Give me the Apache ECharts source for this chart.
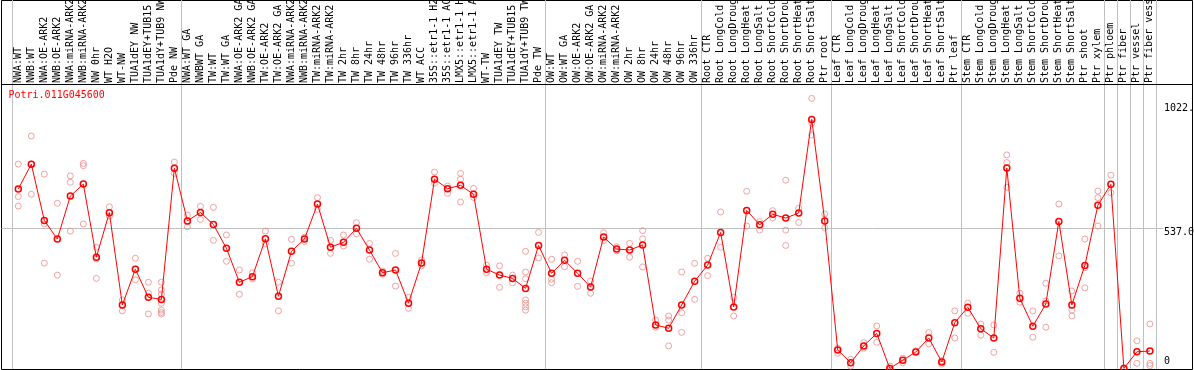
<!DOCTYPE html>
<html><head><meta charset="utf-8">
<script src="https://cdn.jsdelivr.net/npm/echarts@6/dist/echarts.min.js"></script>
<style>html,body{margin:0;padding:0;background:#fff;}#c{width:1194px;height:370px;}</style>
</head><body><div id="c"></div>
<script>
const geneTitle = 'Potri.011G045600';

const categories = [
  'NWA:WT','NWB:WT','NWA:OE-ARK2','NWB:OE-ARK2','NWA:miRNA-ARK2','NWB:miRNA-ARK2','NW 0hr','WT H2O','WT-NW','TUA1dEY NW','TUA1dEY+TUB15 NW','TUA1dY+TUB9 NW','Pde NW',
  'NWA:WT GA','NWBWT GA','TW:WT','TW:WT GA','NWA:OE-ARK2 GA','NWB:OE-ARK2 GA','TW:OE-ARK2','TW:OE-ARK2 GA','NWA:miRNA-ARK2 GA','NWB:miRNA-ARK2 GA','TW:miRNA-ARK2','TW:miRNA-ARK2 GA','TW 2hr','TW 8hr','TW 24hr','TW 48hr','TW 96hr','TW 336hr','WT ACC','35S::etr1-1 H2O','35S::etr1-1 ACC','LMX5::etr1-1 H2O','LMX5::etr1-1 ACC','WT-TW','TUA1dEY TW','TUA1dEY+TUB15 TW','TUA1dY+TUB9 TW','Pde TW',
  'OW:WT','OW:WT GA','OW:OE-ARK2','OW:OE-ARK2 GA','OW:miRNA-ARK2','OW:miRNA-ARK2 GA','OW 2hr','OW 8hr','OW 24hr','OW 48hr','OW 96hr','OW 336hr',
  'Root CTR','Root LongCold','Root LongDrought','Root LongHeat','Root LongSalt','Root ShortCold','Root ShortDrought','Root ShortHeat','Root ShortSalt','Ptr root',
  'Leaf CTR','Leaf LongCold','Leaf LongDrought','Leaf LongHeat','Leaf LongSalt','Leaf ShortCold','Leaf ShortDrought','Leaf ShortHeat','Leaf ShortSalt','Ptr leaf',
  'Stem CTR','Stem LongCold','Stem LongDrought','Stem LongHeat','Stem LongSalt','Stem ShortCold','Stem ShortDrought','Stem ShortHeat','Stem ShortSalt','Ptr shoot','Ptr xylem',
  'Ptr phloem','Ptr fiber','Ptr vessel','Ptr fiber vessel'
];

// index of first category of each separated group
const groupStarts = [0, 13, 41, 53, 63, 73, 84, 85, 86, 87];

const meanValues = [
  691, 788, 568, 495, 663, 710, 424, 598, 237, 377, 267, 259, 772,
  566, 599, 552, 459, 326, 348, 496, 271, 447, 495, 632, 463, 482, 537, 452, 363, 374, 244, 401, 729, 692, 705, 670, 377, 354, 341, 302, 470,
  361, 412, 361, 307, 503, 456, 452, 472, 159, 146, 237, 330,
  393, 521, 229, 607, 551, 592, 577, 597, 963, 566,
  61, 11, 77, 126, -11, 21, 53, 108, 14, 168,
  228, 144, 108, 773, 263, 154, 241, 564, 237, 392, 627,
  709, -11, 54, 57
];

const replicateValues = [
  [788, 661, 624], [898, 788, 670], [749, 554, 401], [635, 354], [742, 717, 526], [791, 782, 554], [463, 417, 341], [621, 585], [257, 214], [420, 336], [326, 283, 202], [326, 296, 280, 244, 217, 208, 202], [796, 752],
  [589, 543], [623, 572], [619, 490], [511, 408], [374, 279], [363, 339], [526, 476], [326, 214], [494, 401], [502, 485], [657, 611], [490, 439], [511, 468], [559, 515], [478, 416], [370, 357], [439, 311], [267, 224], [413, 390], [757, 713], [702, 674], [752, 729, 640], [693, 658], [393, 363], [390, 306], [354, 324], [447, 366, 340, 257, 244, 230, 217], [521, 421],
  [416, 338, 324], [433, 387], [408, 310], [331, 283], [520, 489], [465, 449], [478, 424], [528, 496, 386], [178, 150], [194, 178, 77], [366, 207, 130], [400, 259],
  [420, 352], [601, 463], [267, 194], [682, 546], [563, 530], [606, 578], [725, 530, 470], [615, 560], [1045, 948, 902], [593, 539],
  [68, 48], [25, -2], [90, 68], [155, 91], [-2], [29, 11], [58], [129, 85], [19, 6], [214, 108],
  [244, 205], [162, 119], [159, 52], [824, 794, 697], [283, 248], [214, 111], [322, 253, 150], [632, 429], [292, 217, 194], [495, 383, 304], [683, 657, 546],
  [745, 676], [-8], [97, 9], [163, 9, 0]
];

const yTickValues = [0, 537, 1022];
const yTickLabels = ['0', '537.0', '1022.'];
const yGridValues = [537];

const FONT = 'DejaVu Sans Mono';
const Y_MIN = -13.3, Y_MAX = 1430;

const scatterData = [];
replicateValues.forEach((arr, i) => arr.forEach(v => scatterData.push([i, v])));
const labelFor = v => { const k = yTickValues.indexOf(v); return k >= 0 ? yTickLabels[k] : ''; };

const chart = echarts.init(document.getElementById('c'), null, {renderer: 'canvas'});
chart.setOption({
  animation: false,
  backgroundColor: '#fff',
  title: {
    text: geneTitle, left: 8.5, top: 90, padding: 0,
    textStyle: {fontFamily: FONT, fontSize: 10, fontWeight: 'normal', color: '#ff0000', lineHeight: 10}
  },
  grid: [
    {left: 1.5, right: 31, top: 0, bottom: 1, outerBoundsMode: 'none'},
    {left: 11.8, right: 37.6, top: 0, bottom: 1, outerBoundsMode: 'none'},
    {left: 1.5, right: 1.5, top: 0.5, bottom: 0.5, show: true, borderColor: '#000', borderWidth: 1, backgroundColor: 'transparent', outerBoundsMode: 'none'}
  ],
  xAxis: [
    {gridIndex: 0, type: 'value', show: false, min: 0, max: 1},
    {
      gridIndex: 1, type: 'category', data: categories, position: 'top', offset: -84, boundaryGap: true,
      axisLine: {show: false, onZero: false}, axisTick: {show: false},
      axisLabel: {interval: 0, rotate: -90, margin: 1, fontFamily: FONT, fontSize: 10, color: '#000'},
      splitLine: {show: true, interval: (i) => groupStarts.includes(i), lineStyle: {color: '#c0c0c0', width: 1}}
    },
    {
      gridIndex: 2, type: 'value', position: 'top', offset: -84, min: 0, max: 1,
      axisLine: {show: true, onZero: false, lineStyle: {color: '#000', width: 1}},
      axisTick: {show: false}, axisLabel: {show: false}, splitLine: {show: false}
    }
  ],
  yAxis: [
    {
      gridIndex: 0, type: 'value', position: 'right', min: Y_MIN, max: Y_MAX,
      axisLine: {show: false}, axisTick: {show: false, customValues: yGridValues},
      splitLine: {show: true, lineStyle: {color: '#c0c0c0', width: 1}},
      axisLabel: {customValues: yTickValues.filter(v => v !== 0), formatter: labelFor, margin: 1,
        verticalAlign: 'top', lineHeight: 8, fontFamily: FONT, fontSize: 10, color: '#000'}
    },
    {
      gridIndex: 0, type: 'value', position: 'right', min: Y_MIN, max: Y_MAX,
      axisLine: {show: false}, axisTick: {show: false, customValues: [0]}, splitLine: {show: false},
      axisLabel: {customValues: yTickValues.filter(v => v === 0), formatter: labelFor, margin: 1,
        verticalAlign: 'bottom', lineHeight: 8, fontFamily: FONT, fontSize: 10, color: '#000'}
    },
    {gridIndex: 1, type: 'value', min: Y_MIN, max: Y_MAX, show: false, splitLine: {show: false}},
    {gridIndex: 2, type: 'value', min: 0, max: 1, show: false, splitLine: {show: false}}
  ],
  series: [
    {
      type: 'scatter', xAxisIndex: 1, yAxisIndex: 2, data: scatterData, symbol: 'circle', symbolSize: 6,
      itemStyle: {color: 'rgba(0,0,0,0)', borderColor: '#ec8c8c', borderWidth: 1}, z: 2, silent: true
    },
    {
      type: 'line', xAxisIndex: 1, yAxisIndex: 2, data: meanValues, symbol: 'circle', symbolSize: 6, showAllSymbol: true,
      lineStyle: {color: '#ff0000', width: 1},
      itemStyle: {color: 'rgba(0,0,0,0)', borderColor: '#ff0000', borderWidth: 1.5}, z: 3, silent: true
    }
  ]
});
</script></body></html>
